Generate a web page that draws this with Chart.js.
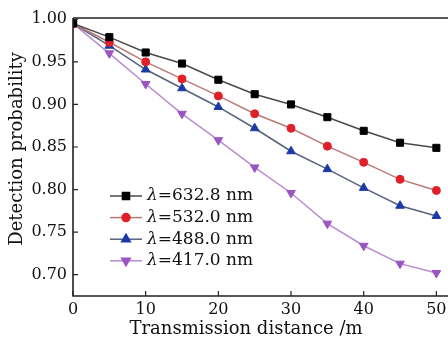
<!DOCTYPE html>
<html><head><meta charset="utf-8">
<script src="https://cdn.jsdelivr.net/npm/chart.js@4/dist/chart.umd.min.js"></script>
<style>html,body{margin:0;padding:0;background:#fff}#wrap{width:448px;height:337px}</style>
</head><body><div id="wrap"><canvas id="c" width="448" height="337"></canvas></div>
<script>
const distances = [0, 5, 10, 15, 20, 25, 30, 35, 40, 45, 50];
const p6328 = [0.995, 0.979, 0.961, 0.948, 0.929, 0.912, 0.900, 0.885, 0.869, 0.855, 0.849];
const p5320 = [0.995, 0.973, 0.950, 0.930, 0.910, 0.889, 0.872, 0.851, 0.832, 0.812, 0.799];
const p4880 = [0.995, 0.969, 0.941, 0.919, 0.897, 0.872, 0.845, 0.824, 0.802, 0.781, 0.769];
const p4170 = [0.995, 0.960, 0.924, 0.889, 0.858, 0.826, 0.796, 0.760, 0.734, 0.713, 0.702];
const seriesNames = ['632.8 nm', '532.0 nm', '488.0 nm', '417.0 nm'];
const xTicks = [0, 10, 20, 30, 40, 50];
const yTicks = [0.70, 0.75, 0.80, 0.85, 0.90, 0.95, 1.00];
const xTitle = 'Transmission distance /m';
const yTitle = 'Detection probability';

const FONT = '"DejaVu Serif", serif';
function mk(data, name, lineC, ptC, style, r, rot) {
  return { label: name, data: data.map((v, i) => ({ x: distances[i], y: v })),
    borderColor: lineC, borderWidth: 1.5, backgroundColor: ptC,
    pointBackgroundColor: ptC, pointBorderColor: ptC, pointBorderWidth: 1,
    pointStyle: style, pointRadius: r, pointRotation: rot || 0, tension: 0 };
}
const datasets = [
  mk(p6328, seriesNames[0], '#4a4a4a', '#000000', 'rect', 5),
  mk(p5320, seriesNames[1], '#b87a78', '#e02028', 'circle', 4),
  mk(p4880, seriesNames[2], '#56627e', '#1c3aa6', 'triangle', 5),
  mk(p4170, seriesNames[3], '#b88cd0', '#9a56c0', 'triangle', 5, 180)
];
const noPad = () => ({ left: 0, right: 0, top: 0, bottom: 0 });

const deco = {
  id: 'deco',
  afterDraw(chart) {
    const ctx = chart.ctx, a = chart.chartArea, xs = chart.scales.x, ys = chart.scales.y;
    ctx.save();
    ctx.strokeStyle = '#222'; ctx.lineWidth = 1.6;
    ctx.beginPath();
    ctx.moveTo(a.left, a.top); ctx.lineTo(a.right, a.top);
    ctx.moveTo(a.left, a.top); ctx.lineTo(a.left, a.bottom); ctx.lineTo(a.right, a.bottom);
    ctx.stroke();
    ctx.lineWidth = 1.2;
    ctx.beginPath();
    yTicks.forEach(v => { const y = ys.getPixelForValue(v); ctx.moveTo(a.left, y); ctx.lineTo(a.left + 5, y); });
    xTicks.forEach(v => { const x = xs.getPixelForValue(v); ctx.moveTo(x, a.bottom); ctx.lineTo(x, a.bottom - 5); });
    ctx.stroke();
    ctx.fillStyle = '#111';
    ctx.font = '18px ' + FONT;
    ctx.textAlign = 'center'; ctx.textBaseline = 'middle';
    ctx.fillText(xTitle, 246, 329);
    ctx.translate(17, 149); ctx.rotate(-Math.PI / 2);
    ctx.fillText(yTitle, 0, 0);
    ctx.restore();
    ctx.save();
    const lx0 = 110, lx1 = 142, tx = 147, y0 = 196, dy = 21.6;
    chart.data.datasets.forEach((ds, i) => {
      const y = y0 + i * dy;
      ctx.strokeStyle = ds.borderColor; ctx.lineWidth = 1.5;
      ctx.beginPath(); ctx.moveTo(lx0, y); ctx.lineTo(lx1, y); ctx.stroke();
      ctx.fillStyle = ds.pointBackgroundColor; ctx.strokeStyle = ds.pointBorderColor;
      Chart.helpers.drawPoint(ctx, { pointStyle: ds.pointStyle, radius: ds.pointRadius, rotation: ds.pointRotation, borderWidth: 1 }, (lx0 + lx1) / 2, y);
      ctx.fillStyle = '#111'; ctx.textBaseline = 'middle'; ctx.textAlign = 'left';
      ctx.font = 'italic 17px ' + FONT;
      ctx.fillText('λ', tx, y);
      const w = ctx.measureText('λ').width;
      ctx.font = '17px ' + FONT;
      ctx.fillText('=' + ds.label, tx + w, y);
    });
    ctx.restore();
  }
};

new Chart(document.getElementById('c'), {
  type: 'line',
  data: { datasets },
  options: {
    responsive: false, animation: false, devicePixelRatio: 1,
    layout: { autoPadding: false, padding: { top: 18, right: 0, left: 0, bottom: 0 } },
    plugins: { legend: { display: false }, tooltip: { enabled: false } },
    scales: {
      x: { type: 'linear', min: 0, max: 51.6,
        afterBuildTicks: s => { s.ticks = xTicks.map(v => ({ value: v })); },
        afterFit: s => { s.height = 41; s.paddingRight = 0; s.paddingLeft = 0; s.getPadding = noPad; },
        grid: { display: false, drawTicks: false }, border: { display: false },
        ticks: { padding: 4, color: '#111', font: { family: FONT, size: 16 }, maxRotation: 0, autoSkip: false } },
      y: { type: 'linear', min: 0.675, max: 1.0015,
        afterBuildTicks: s => { s.ticks = yTicks.map(v => ({ value: v })); },
        afterFit: s => { s.width = 73; s.paddingTop = 0; s.paddingBottom = 0; s.getPadding = noPad; },
        grid: { display: false, drawTicks: false }, border: { display: false },
        ticks: { padding: 6, color: '#111', font: { family: FONT, size: 16 }, callback: v => v.toFixed(2) } }
    }
  },
  plugins: [deco]
});
</script></body></html>
